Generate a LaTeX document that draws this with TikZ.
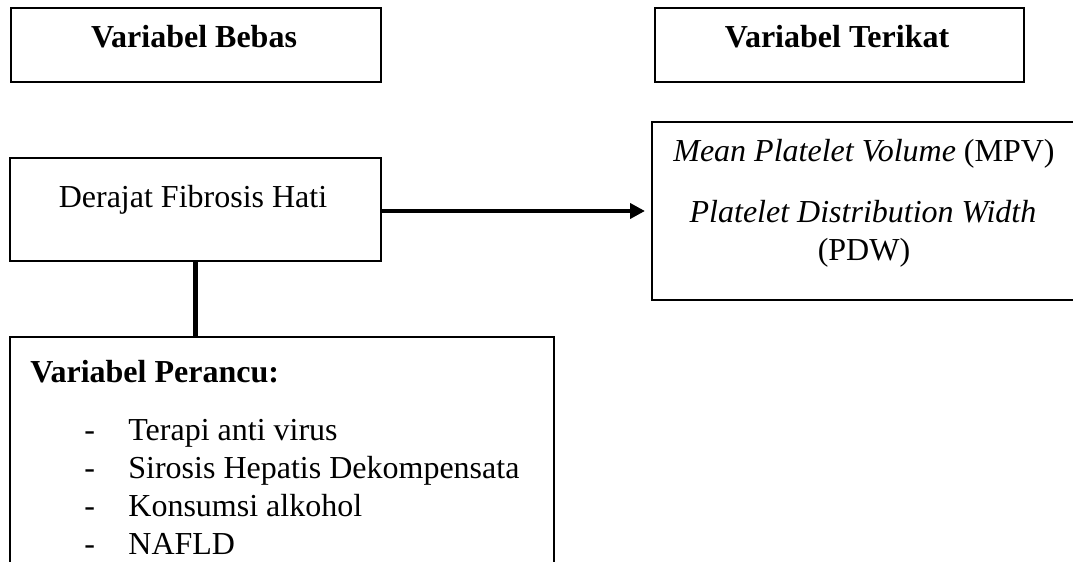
\documentclass[tikz,border=0pt]{standalone}
\usepackage{fontspec}
\setmainfont{Liberation Serif}
\usetikzlibrary{arrows.meta}

\begin{document}
\begin{tikzpicture}[x=0.5pt,y=-0.5pt,font=\fontsize{16}{18}\selectfont,
	box node/.style={draw,line width=1pt,inner sep=0pt},
	label node/.style={inner sep=0pt,anchor=base},
	item node/.style={inner sep=0pt,anchor=base west}]
	
	\useasboundingbox (0,0) rectangle (1073,562);
	\clip (0,0) rectangle (1073,562);
	
	\node[box node,minimum width=185pt,minimum height=37pt] at (196,45) (bebas) {};
	\node[box node,minimum width=184.5pt,minimum height=37pt] at (839.5,45) (terikat) {};
	\node[box node,minimum width=185.5pt,minimum height=51.5pt] at (195.5,209.5) (derajat) {};
	\node[box node,minimum width=219pt,minimum height=89pt] at (871,211) (mpv) {};
	\node[box node,minimum width=272pt,minimum height=131.5pt] at (282,468.5) (perancu) {};
	
	\node[label node] at (194,47) {\textbf{Variabel Bebas}};
	\node[label node] at (837,47) {\textbf{Variabel Terikat}};
	\node[label node] at (193,207) {Derajat Fibrosis Hati};
	\node[label node] at (864,161) {\textit{Mean Platelet Volume} (MPV)};
	\node[label node] at (863,222) {\textit{Platelet Distribution Width}};
	\node[label node] at (864,260) {(PDW)};
	
	\node[item node] at (30,382) {\textbf{Variabel Perancu:}};
	\node[item node] at (84,440) {-};
	\node[item node] at (128,440) {Terapi anti virus};
	\node[item node] at (84,478) {-};
	\node[item node] at (128,478) {Sirosis Hepatis Dekompensata};
	\node[item node] at (84,516) {-};
	\node[item node] at (128,516) {Konsumsi alkohol};
	\node[item node] at (84,554) {-};
	\node[item node] at (128,554) {NAFLD};
	
	\draw[line width=2pt,-{Triangle[length=7.5pt,width=7.5pt]},shorten >=3pt]
	(mpv.west -| derajat.east) -- (mpv.west);
	\draw[line width=2.5pt] (derajat.south) -- (perancu.north -| derajat.south);
\end{tikzpicture}
\end{document}
